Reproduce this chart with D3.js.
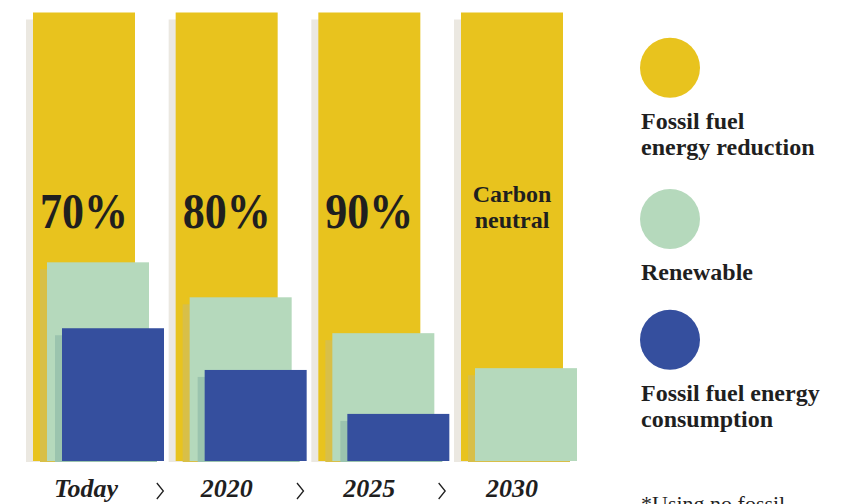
<!DOCTYPE html>
<html>
<head>
<meta charset="utf-8">
<script src="https://cdn.jsdelivr.net/npm/d3@7/dist/d3.min.js"></script>
<style>
  html, body { margin: 0; padding: 0; background: #ffffff; }
  svg { display: block; }
  text { font-family: "Liberation Serif", "DejaVu Serif", serif; fill: #1f1f1f; }
</style>
</head>
<body>
<script>
// Milestones along the energy transition
const categories = ["Today", "2020", "2025", "2030"];
// Share of fossil fuel energy reduction target (labels printed in the yellow bars)
const reductionLabels = [["70%"], ["80%"], ["90%"], ["Carbon", "neutral"]];
// Bar heights, percent of the full column
const fossilReduction = [100, 100, 100, 100];
const renewable = [44.3, 36.5, 28.5, 20.7];
const fossilConsumption = [29.6, 20.3, 10.5, 0];

const legendLabels = [
  ["Fossil fuel", "energy reduction"],
  ["Renewable"],
  ["Fossil fuel energy", "consumption"]
];
const footnote = "*Using no fossil";

const W = 853, H = 504;
const svg = d3.select("body").append("svg").attr("width", W).attr("height", H);

const baseline = 461;
const barW = 102;
const shadowDx = -7, shadowDy = 7;

const x = d3.scalePoint().domain(categories).range([33, 461]);
const y = d3.scaleLinear().domain([0, 100]).range([baseline, 12.5]);

const series = [
  { key: "reduction", values: fossilReduction, dx: 0,  fill: "#E8C31E", shadow: "#EBE8E1" },
  { key: "renewable", values: renewable,       dx: 14, fill: "#B5D9BC", shadow: "#D8BF48" },
  { key: "consumption", values: fossilConsumption, dx: 29, fill: "#354F9E", shadow: "#9BC4AE" }
];

series.forEach(s => {
  const rows = categories.map((c, i) => ({ c, v: s.values[i] })).filter(d => d.v > 0);
  const g = svg.append("g").attr("class", "series-" + s.key);
  // offset drop shadow
  g.selectAll("rect.shadow").data(rows).join("rect")
    .attr("class", "shadow")
    .attr("x", d => x(d.c) + s.dx + shadowDx)
    .attr("y", d => y(d.v) + shadowDy)
    .attr("width", barW)
    .attr("height", d => baseline + 1 - (y(d.v) + shadowDy))
    .attr("fill", s.shadow);
  g.selectAll("rect.bar").data(rows).join("rect")
    .attr("class", "bar")
    .attr("x", d => x(d.c) + s.dx)
    .attr("y", d => y(d.v))
    .attr("width", barW)
    .attr("height", d => baseline - y(d.v))
    .attr("fill", s.fill);
});

// Reduction labels inside the yellow columns
const labelG = svg.append("g");
categories.forEach((c, i) => {
  const lines = reductionLabels[i];
  const cx = x(c) + barW / 2;
  if (lines.length === 1) {
    labelG.append("text")
      .attr("x", cx).attr("y", 228)
      .attr("text-anchor", "middle")
      .attr("font-size", 50).attr("font-weight", 700)
      .attr("textLength", 88).attr("lengthAdjust", "spacingAndGlyphs")
      .text(lines[0]);
  } else {
    lines.forEach((ln, j) => {
      labelG.append("text")
        .attr("x", cx).attr("y", 202 + j * 26)
        .attr("text-anchor", "middle")
        .attr("font-size", 24).attr("font-weight", 700)
        .text(ln);
    });
  }
});

// Category axis along the bottom
const axisG = svg.append("g");
categories.forEach(c => {
  axisG.append("text")
    .attr("x", x(c) + barW / 2 + (c === "Today" ? 2 : 0))
    .attr("y", 497)
    .attr("text-anchor", "middle")
    .attr("font-size", 26).attr("font-weight", 700).attr("font-style", "italic")
    .text(c);
});
// chevrons between milestones
d3.pairs(categories).forEach(([a, b], i) => {
  const cx = (x(a) + x(b)) / 2 + barW / 2 + [4.5, 2, 1][i];
  axisG.append("path")
    .attr("d", `M${cx - 3},483 L${cx + 3.5},491 L${cx - 3},499`)
    .attr("fill", "none")
    .attr("stroke", "#1f1f1f")
    .attr("stroke-width", 1.3);
});

// Legend
const legendY = [67.7, 219, 339.7];
const legendG = svg.append("g");
series.forEach((s, i) => {
  legendG.append("circle")
    .attr("cx", 670).attr("cy", legendY[i]).attr("r", 30)
    .attr("fill", s.fill);
  legendLabels[i].forEach((ln, j) => {
    legendG.append("text")
      .attr("x", 641).attr("y", legendY[i] + 61 + j * 26)
      .attr("font-size", 24).attr("font-weight", 700)
      .text(ln);
  });
});

svg.append("text")
  .attr("x", 641).attr("y", 511)
  .attr("font-size", 22)
  .text(footnote);
</script>
</body>
</html>
